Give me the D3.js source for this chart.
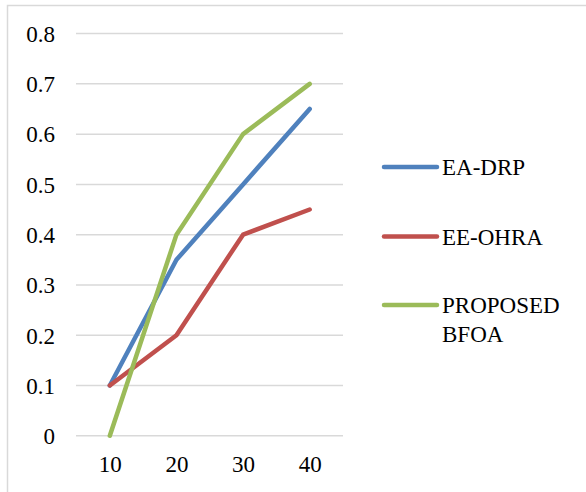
<!DOCTYPE html>
<html><head><meta charset="utf-8">
<script src="https://cdn.jsdelivr.net/npm/d3@7/dist/d3.min.js"></script>
<style>body{margin:0;background:#fff}svg{display:block}</style>
</head><body><svg id="c" width="586" height="492"></svg>
<script>
const categories = ["10","20","30","40"];
const eaDrp = [0.1, 0.35, 0.5, 0.65];
const eeOhra = [0.1, 0.2, 0.4, 0.45];
const bfoa = [0, 0.4, 0.6, 0.7];
const yTicks = [0,0.1,0.2,0.3,0.4,0.5,0.6,0.7,0.8];
const seriesNames = [["EA-DRP"],["EE-OHRA"],["PROPOSED","BFOA"]];
const seriesColors = ["#4F81BD","#C0504D","#9BBB59"];
const series = [eaDrp, eeOhra, bfoa];
const FONT = "Liberation Serif";

const svg = d3.select("#c");
svg.append("path").attr("d","M7.5,492V5.5H586").attr("fill","none").attr("stroke","#D9D9D9").attr("stroke-width",1.5);

const x = d3.scalePoint().domain(categories).range([76.5,343]).padding(0.5);
const y = d3.scaleLinear().domain([0,0.8]).range([435.7,33.6]);

svg.append("g").selectAll("line").data(yTicks).join("line")
  .attr("x1",76).attr("x2",343).attr("y1",d=>y(d)).attr("y2",d=>y(d))
  .attr("stroke","#D9D9D9").attr("stroke-width",1.5);

const yAxis = d3.axisLeft(y).tickValues(yTicks).tickSize(0).tickPadding(0).tickFormat(d=>d===0?"0":d3.format(".1f")(d));
const ya = svg.append("g").attr("transform","translate(55,0)").call(yAxis).attr("font-family",FONT).attr("font-size",23);
ya.select(".domain").remove();
ya.selectAll("text").attr("fill","#000").attr("dy","0.34em");

const xAxis = d3.axisBottom(x).tickSize(0).tickPadding(0);
const xa = svg.append("g").attr("transform","translate(0,472)").call(xAxis).attr("font-family",FONT).attr("font-size",23);
xa.select(".domain").remove();
xa.selectAll("text").attr("fill","#000").attr("dy",0);

const line = d3.line().x((d,i)=>x(categories[i])).y(d=>y(d));
series.forEach((s,k)=>{
  svg.append("path").datum(s).attr("d",line).attr("fill","none")
    .attr("stroke",seriesColors[k]).attr("stroke-width",4.5)
    .attr("stroke-linecap","round").attr("stroke-linejoin","round");
});

const legY = [167, 236.5, 305];
const lg = svg.append("g").attr("font-family",FONT).attr("font-size",23);
seriesNames.forEach((names,k)=>{
  lg.append("line").attr("x1",384).attr("x2",437).attr("y1",legY[k]).attr("y2",legY[k])
    .attr("stroke",seriesColors[k]).attr("stroke-width",4.5).attr("stroke-linecap","round");
  names.forEach((t,j)=>{
    lg.append("text").attr("x",442).attr("y",legY[k]+8+j*28.5).attr("fill","#000").text(t);
  });
});
</script></body></html>
